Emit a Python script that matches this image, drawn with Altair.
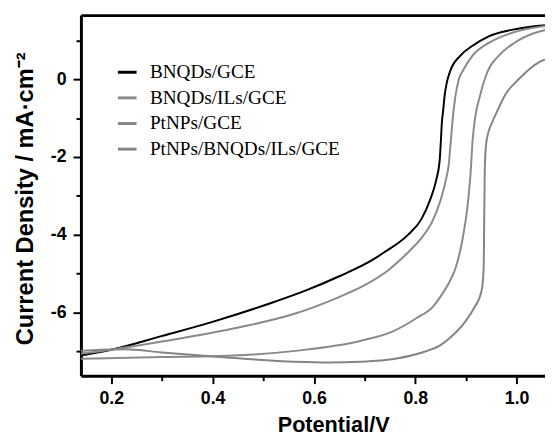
import altair as alt
import pandas as pd

series_names = ["BNQDs/GCE", "BNQDs/ILs/GCE", "PtNPs/GCE", "PtNPs/BNQDs/ILs/GCE"]
series_colors = ["#000000", "#8a8a8a", "#8a8a8a", "#848484"]

bnqds_x = [0.14, 0.2, 0.299, 0.398, 0.524, 0.583, 0.65, 0.718, 0.738, 0.786, 0.812, 0.829,
           0.841, 0.848, 0.8505, 0.852, 0.855, 0.858, 0.862, 0.868, 0.889, 0.913, 0.946, 0.99, 1.056]
bnqds_y = [-7.11, -6.96, -6.61, -6.25, -5.72, -5.44, -5.07, -4.63, -4.46, -4.0, -3.6, -3.11,
           -2.61, -2.10, -1.59, -1.2, -0.8, -0.41, -0.1, 0.18, 0.61, 0.86, 1.11, 1.27, 1.39]

bnqds_ils_x = [0.14, 0.2, 0.3, 0.443, 0.563, 0.641, 0.70, 0.748, 0.771, 0.790, 0.810, 0.835,
               0.850, 0.860, 0.866, 0.870, 0.874, 0.879, 0.886, 0.893, 0.913, 0.946, 0.99, 1.056]
bnqds_ils_y = [-7.06, -6.96, -6.75, -6.41, -6.03, -5.65, -5.30, -4.90, -4.64, -4.40, -4.12, -3.62,
               -3.11, -2.61, -2.2, -1.6, -1.0, -0.45, 0.0, 0.2, 0.61, 0.94, 1.19, 1.37]

ptnps_x = [0.14, 0.3, 0.44, 0.563, 0.693, 0.757, 0.802, 0.835, 0.852, 0.868, 0.880, 0.893, 0.903,
           0.909, 0.913, 0.918, 0.928, 0.942, 0.965, 0.996, 1.035, 1.056]
ptnps_y = [-7.19, -7.15, -7.11, -6.99, -6.73, -6.48, -6.15, -5.85, -5.55, -5.2, -4.84, -4.13,
           -3.28, -2.44, -1.59, -1.0, -0.41, 0.18, 0.61, 0.94, 1.19, 1.27]

ptnps_bnqds_x = [0.14, 0.18, 0.227, 0.3, 0.427, 0.563, 0.63, 0.693, 0.757, 0.821, 0.849, 0.868,
                 0.899, 0.919, 0.926, 0.932, 0.935, 0.936, 0.937, 0.938, 0.941, 0.952, 0.961, 0.977,
                 1.004, 1.043, 1.056]
ptnps_bnqds_y = [-6.99, -6.96, -6.95, -7.03, -7.16, -7.27, -7.29, -7.27, -7.2, -7.0, -6.85, -6.66,
                 -6.23, -5.82, -5.65, -5.35, -4.84, -3.6, -2.44, -2.0, -1.55, -1.1, -0.84, -0.41,
                 0.0, 0.43, 0.51]

x_major = [0.2, 0.4, 0.6, 0.8, 1.0]
x_minor = [0.3, 0.5, 0.7, 0.9]
y_major = [-6, -4, -2, 0]
y_minor = [-7, -5, -3, -1, 1]
x_domain = [0.14, 1.056]
y_domain = [-7.63, 1.65]

rows = []
for name, xs, ys in zip(series_names,
                        [bnqds_x, bnqds_ils_x, ptnps_x, ptnps_bnqds_x],
                        [bnqds_y, bnqds_ils_y, ptnps_y, ptnps_bnqds_y]):
    for i, (xv, yv) in enumerate(zip(xs, ys)):
        rows.append({"series": name, "x": xv, "y": yv, "i": i})
df = pd.DataFrame(rows)

SANS = "Liberation Sans"
SERIF = "Liberation Serif"

xscale = alt.Scale(domain=x_domain, nice=False, zero=False)
yscale = alt.Scale(domain=y_domain, nice=False, zero=False)

common_axis = dict(grid=False, domainColor="black", tickColor="black", labelColor="black",
                   titleColor="black")

lines = alt.Chart(df).mark_line(strokeWidth=2, interpolate="monotone", clip=True).encode(
    x=alt.X("x:Q", scale=xscale, axis=alt.Axis(
        orient="bottom", values=x_major, tickSize=8, tickWidth=2, domainWidth=3,
        labelFont=SANS, labelFontWeight="bold", labelFontSize=18, labelPadding=6,
        labelExpr="format(datum.value, '.1f')", labelFlush=False,
        title="Potential/V", titleFont=SANS, titleFontWeight="bold", titleFontSize=22,
        titleX=256, titleY=57, titleAlign="center", titleBaseline="alphabetic",
        **common_axis)),
    y=alt.Y("y:Q", scale=yscale, axis=alt.Axis(
        orient="left", values=y_major, tickSize=8, tickWidth=2, domainWidth=3,
        labelFont=SANS, labelFontWeight="bold", labelFontSize=18, labelPadding=7,
        labelExpr="'' + datum.value", labelFlush=False,
        title="Current Density / mA·cm⁻²", titleFont=SANS, titleFontWeight="bold",
        titleFontSize=24, titleAngle=270, titleX=-49, titleY=186, titleAlign="center",
        titleBaseline="alphabetic", **common_axis)),
    color=alt.Color("series:N", scale=alt.Scale(domain=series_names, range=series_colors),
                    sort=series_names,
                    legend=alt.Legend(orient="none", legendX=36, legendY=47, title=None,
                                      symbolType="stroke", symbolSize=361, symbolStrokeWidth=3,
                                      labelFont=SERIF, labelFontSize=19.5, labelColor="black",
                                      labelLimit=400, labelOffset=12, rowPadding=5, padding=0)),
    order="i:Q",
)

minor = alt.Chart(df).mark_line(strokeOpacity=0).encode(
    x=alt.X("x:Q", scale=xscale, axis=alt.Axis(
        orient="bottom", values=x_minor, tickSize=5, tickWidth=2, labels=False, domain=False,
        title=None, **common_axis)),
    y=alt.Y("y:Q", scale=yscale, axis=alt.Axis(
        orient="left", values=y_minor, tickSize=5, tickWidth=2, labels=False, domain=False,
        title=None, **common_axis)),
    detail="series:N",
)

top = alt.Chart(df).mark_line(strokeOpacity=0).encode(
    x=alt.X("x:Q", scale=xscale, axis=alt.Axis(
        orient="top", ticks=False, labels=False, domain=True, domainWidth=3, title=None,
        **common_axis)),
    y=alt.Y("y:Q", scale=yscale, axis=None),
    detail="series:N",
)

chart = alt.layer(lines, minor, top).resolve_axis(x="independent", y="independent").properties(
    width=471, height=366,
    padding={"left": 74, "top": 4, "right": 0, "bottom": 62},
    autosize=alt.AutoSizeParams(type="none"),
).configure_view(stroke=None)

chart.save("out.html", embed_options={"renderer": "svg", "actions": False})
